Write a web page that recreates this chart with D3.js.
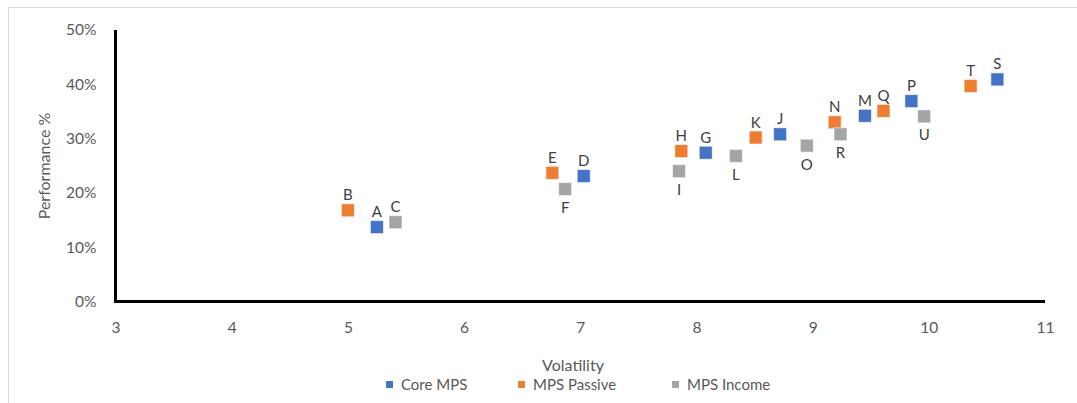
<!DOCTYPE html>
<html><head><meta charset="utf-8">
<script src="https://cdn.jsdelivr.net/npm/d3@7"></script>
<style>
html,body{margin:0;padding:0;background:#fff;}
svg{display:block;font-family:Lato,"Open Sans",sans-serif;}
</style></head>
<body><svg id="chart" width="1077" height="403"></svg>
<script>
const seriesNames = ["Core MPS", "MPS Passive", "MPS Income"];
const seriesColors = ["#4472C4", "#ED7D31", "#A5A5A5"];
const coreLabels = ["A","D","G","J","M","P","S"];
const coreX = [5.25, 7.03, 8.08, 8.72, 9.45, 9.85, 10.59];
const coreY = [0.137, 0.231, 0.274, 0.308, 0.342, 0.369, 0.409];
const passiveLabels = ["B","E","H","K","N","Q","T"];
const passiveX = [5.0, 6.76, 7.87, 8.51, 9.19, 9.61, 10.36];
const passiveY = [0.168, 0.237, 0.277, 0.302, 0.330, 0.351, 0.397];
const incomeLabels = ["C","F","I","L","O","R","U"];
const incomeX = [5.41, 6.87, 7.85, 8.34, 8.95, 9.24, 9.96];
const incomeY = [0.146, 0.207, 0.240, 0.268, 0.287, 0.308, 0.341];
const labelBelow = ["F","I","L","O","R","U"];
const xTicks = [3,4,5,6,7,8,9,10,11];
const yTicks = [0,0.1,0.2,0.3,0.4,0.5];

const svg = d3.select("#chart");
svg.append("rect").attr("x",8.5).attr("y",7.5).attr("width",1100).attr("height",420)
  .attr("fill","none").attr("stroke","#D9D9D9").attr("stroke-width",1);

const x = d3.scaleLinear().domain([3,11]).range([115.5,1045]);
const y = d3.scaleLinear().domain([0,0.5]).range([301.5,30]);

const xAxis = d3.axisBottom(x).tickValues(xTicks).tickSize(0).tickPadding(20).tickFormat(d3.format("d"));
const gx = svg.append("g").attr("transform",`translate(0,${y(0)})`).call(xAxis);
gx.select(".domain").remove();
gx.selectAll("text").attr("fill","#595959").style("font-size","15.5px").style("font-family","Lato");

const yAxis = d3.axisLeft(y).tickValues(yTicks).tickSize(0).tickPadding(19).tickFormat(d3.format(".0%"));
const gy = svg.append("g").attr("transform",`translate(${x(3)},0)`).call(yAxis);
gy.select(".domain").remove();
gy.selectAll("text").attr("fill","#595959").style("font-size","15.5px").style("font-family","Lato");

svg.append("path")
  .attr("d",`M${x(3)},${y(0.5)}V${y(0)}H${x(11)}`)
  .attr("fill","none").attr("stroke","#000").attr("stroke-width",3);

svg.append("text").attr("x",573).attr("y",371).attr("text-anchor","middle")
  .attr("fill","#595959").style("font-size","16px").text("Volatility");
svg.append("text").attr("transform",`translate(50,166) rotate(-90)`).attr("text-anchor","middle")
  .attr("fill","#595959").style("font-size","16px").text("Performance %");

const series = [
  {name:seriesNames[0], color:seriesColors[0], labels:coreLabels, xs:coreX, ys:coreY},
  {name:seriesNames[1], color:seriesColors[1], labels:passiveLabels, xs:passiveX, ys:passiveY},
  {name:seriesNames[2], color:seriesColors[2], labels:incomeLabels, xs:incomeX, ys:incomeY}
];
const ms = 13;
series.forEach(s => {
  const data = s.labels.map((l,i)=>({l, vx:s.xs[i], vy:s.ys[i]}));
  const g = svg.append("g");
  g.selectAll("rect").data(data).enter().append("rect")
    .attr("x",d=>x(d.vx)-ms/2).attr("y",d=>y(d.vy)-ms/2)
    .attr("width",ms).attr("height",ms)
    .attr("fill",s.color).attr("stroke","#fff").attr("stroke-opacity",0.6).attr("stroke-width",1);
  g.selectAll("text").data(data).enter().append("text")
    .attr("x",d=>x(d.vx))
    .attr("y",d=>labelBelow.includes(d.l) ? y(d.vy)+24 : y(d.vy)-10)
    .attr("text-anchor","middle").attr("fill","#404040").style("font-size","15px")
    .text(d=>d.l);
});

const legX = [386, 518, 672];
const leg = svg.append("g");
series.forEach((s,i)=>{
  leg.append("rect").attr("x",legX[i]).attr("y",381).attr("width",7).attr("height",7).attr("fill",s.color);
  leg.append("text").attr("x",legX[i]+15).attr("y",390).attr("fill","#595959")
    .style("font-size","15px").text(s.name);
});
</script></body></html>
